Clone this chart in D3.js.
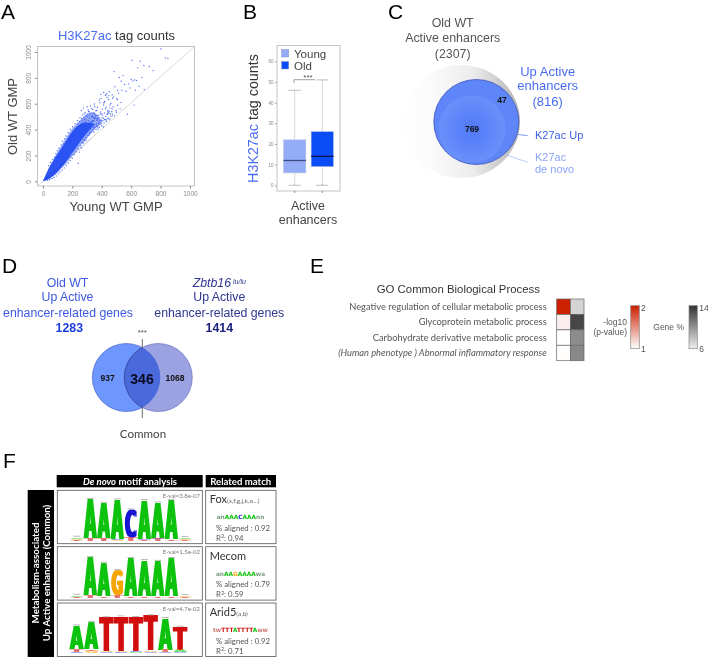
<!DOCTYPE html>
<html>
<head>
<meta charset="utf-8">
<script src="https://cdn.jsdelivr.net/npm/d3@7"></script>
<style>
  html, body { margin: 0; background: #fff; }
  svg { display: block; filter: blur(0.35px); }
  text { font-family: "Liberation Sans", Arial, sans-serif; }
  .lato { font-family: Lato, "Open Sans", sans-serif; }
</style>
</head>
<body>
<div id="chart"></div>
<script>
// A: scatter, values (sparse points only)
const scatterYoung = [803,832,850,605,662,644,687,723,750,485,544,519,601,624,637,533,583,628,689,413,435,508,537,481,621,574,
  395,421,446,462,478,455,508,497,525,531,468,440,412,388,372,360,350,338,322,301,310,275,280,262,
  355,368,382,400,412,320,345,330,240,
  290,300,310,320,330,340,350,360,370,380,390,345,315,295,305,325,285,270,260,275,265,
  352,336,318,306,292,278,364,376,398,405,428,448,366,342,327,312,298,283,268,255,
  248,262,276,294,
  384,394,426,436,452,471,489,503,515,556,566,592,612,654,674,471,459,443,429,417];
const scatterOld = [1023,954,949,936,928,877,895,887,856,848,817,802,787,784,779,774,753,704,709,686,679,704,704,653,589,519,
  640,618,633,601,577,566,588,548,560,610,540,520,590,607,571,545,598,556,583,576,540,566,520,548,
  498,470,455,430,420,380,418,450,140,
  460,500,470,440,500,470,440,510,430,490,520,530,510,430,410,405,480,470,450,430,400,
  416,396,372,354,338,322,442,404,472,512,476,528,486,492,462,438,408,378,352,432,
  226,258,298,318,
  628,672,665,648,692,668,731,640,682,748,696,722,776,735,802,506,522,486,474,612];

// points around the dense core: upper side, lower side, then the loose top of the cloud
const fringeYoung = [38,44,52,58,64,66,73,77,83,88,93,97,103,108,112,118,123,128,133,137,143,147,151,156,161,167,172,176,181,186,190,196,201,207,212,218,224,229,234,240,246,252,257,263,268,274,281,287,294,301,308,316,323,331,337,344,352,
  31,44,48,61,67,75,81,91,95,104,109,117,124,131,136,145,151,158,164,172,177,186,191,199,204,213,218,226,232,240,246,255,261,268,275,284,290,298,305,314,321,330,337,346,354,362,370,378,389,400,412,425,436,450,
  352,366,378,392,404,418,430,442,456,470,384,396,408,420,432,444,458,472,486,500,372,388,402,416,428,440,454,362,374,346,350,338,326,314,302,290,278,264,250,238,414,474,506,448,426];
const fringeOld = [120,100,146,118,170,132,150,186,162,214,180,236,198,256,214,232,282,246,310,262,288,330,274,350,304,322,378,296,344,402,322,368,422,348,386,446,402,368,470,420,388,492,436,404,512,456,420,530,474,438,552,488,452,566,510,468,578,
  8,12,26,22,44,30,56,42,72,58,90,72,112,86,128,104,150,124,172,142,196,160,224,178,246,206,274,228,296,250,322,276,344,298,372,316,394,336,416,358,438,380,462,402,486,424,508,446,470,520,488,560,518,540,
  520,548,512,536,558,528,572,548,590,562,418,450,468,478,462,488,504,520,506,534,478,438,492,452,502,536,478,402,420,382,488,500,524,538,518,506,494,486,462,444,606,642,630,662,668];

// dense core of the cloud as an envelope, and the softer zone around it
const bandYoung = [2, 29, 52, 86, 120, 154, 188, 222, 256, 290, 324, 352];
const bandLow   = [2, 10, 30, 56, 100, 148, 204, 252, 310, 362, 408, 438];
const bandHigh  = [6, 74, 126, 188, 246, 305, 372, 418, 445, 456, 456, 442];
const haloYoung = [2, 50, 100, 150, 200, 250, 300, 350, 400];
const haloLow   = [2, 18, 70, 125, 195, 270, 335, 405, 450];
const haloHigh  = [8, 130, 230, 325, 415, 470, 525, 545, 470];

// B: boxplot
const boxGroups = ["Young", "Old"];
const boxColors = ["#94acf6", "#0a4cf6"];
const boxQ1     = [6, 9];
const boxMedian = [12, 14];
const boxQ3     = [22, 26];
const boxLow    = [0, 0];
const boxHigh   = [46, 51];

// C / D: venn numbers
const vennC = { old: 2307, up: 816, k27acUp: 47, deNovo: 769 };
const vennD = { oldWt: 1283, zbtb: 1414, onlyOld: 937, common: 346, onlyZbtb: 1068 };

// E: heatmap
const goTerms = ["Negative regulation of cellular metabolic process", "Glycoprotein metabolic process",
  "Carbohydrate derivative metabolic process", "(Human phenotype ) Abnormal inflammatory response"];
const goPvalue = [2, 1.13, 1, 1.02];
const goGene   = [7.2, 13.2, 10.2, 10.4];

// F: motifs, each position is a stack [letter, bits] from the bottom up
const motifRows = [
  { eval: "E-val=3.8e-07", name: "Fox", sub: "(a,f,g,j,k,o...)", aligned: "0.92", r2: "0.94",
    seq: "anAAACAAAnn", stacks: [
      [["T",.06],["G",.05],["A",.07]],
      [["T",.14],["A",1.84]], [["T",.14],["A",1.66]], [["G",.05],["C",.05],["A",1.86]],
      [["T",.18],["C",1.3]], [["T",.06],["C",.05],["A",1.82]], [["T",.1],["C",.05],["A",1.66]],
      [["T",.08],["A",1.84]], [["T",.04],["G",.05],["A",.08]] ] },
  { eval: "E-val=1.5e-02", name: "Mecom", sub: "", aligned: "0.79", r2: "0.59",
    seq: "anAAGAAAAwa", stacks: [
      [["T",.04],["A",.07]],
      [["T",.1],["A",1.8]], [["T",.08],["A",1.56]], [["T",.14],["G",1.14]],
      [["T",.08],["A",1.78]], [["T",.08],["A",1.68]], [["T",.06],["A",1.66]],
      [["T",.08],["A",1.78]], [["T",.04],["G",.05]] ] },
  { eval: "E-val=4.7e-02", name: "Arid5", sub: "(a,b)", aligned: "0.92", r2: "0.71",
    seq: "twTTTATTTTAww", stacks: [
      [["C",.05],["T",.12],["A",1.12]], [["G",.1],["T",.08],["A",1.28]],
      [["C",.07],["G",.03],["T",1.58]], [["C",.05],["G",.06],["T",1.61]],
      [["A",.06],["C",.05],["T",1.58]], [["C",.07],["G",.05],["T",1.65]],
      [["C",.04],["T",.1],["A",1.5]], [["C",.03],["A",.1],["T",1.1]] ] }
];
const letterColor = { A: "#0cc20c", C: "#1616d2", G: "#f6a500", T: "#d20a0a" };
const letterAdvance = { A: 77.4, C: 73.4, G: 82.1, T: 68.2 };

const blueTitle = "#4a6cf2";
const axisGrey = "#8a8a8a";

const svg = d3.select("#chart").append("svg").attr("width", 708).attr("height", 657);

function label(g, str, x, y, size, opts) {
  opts = opts || {};
  return g.append("text").attr("x", x).attr("y", y).attr("font-size", size)
    .attr("text-anchor", opts.anchor || "start")
    .attr("font-weight", opts.bold ? "bold" : null)
    .attr("fill", opts.fill || "#333").attr("class", opts.cls || null).text(str);
}

// panel letters
[["A",1,19.2],["B",243,19.2],["C",388,19.2],["D",2,273],["E",310,273],["F",3,468]].forEach(d => {
  label(svg, d[0], d[1], d[2], 21, { fill: "#000" });
});

const defs = svg.append("defs");

// ---- A
function drawScatter() {
  const g = svg.append("g");
  const x = d3.scaleLinear().domain([-37, 1031]).range([37.5, 194.5]);
  const y = d3.scaleLinear().domain([-36, 1042]).range([186, 46.5]);
  g.append("rect").attr("x", 37.5).attr("y", 46.5).attr("width", 157).attr("height", 139.5)
    .attr("fill", "none").attr("stroke", "#c4c4c4");
  g.append("line").attr("x1", x(-37)).attr("y1", y(-36)).attr("x2", x(1031)).attr("y2", y(1042))
    .attr("stroke", "#c8c8c8").attr("stroke-width", 0.7);

  const halo = d3.area().x((d, i) => x(haloYoung[i])).y0((d, i) => y(haloLow[i]))
    .y1((d, i) => y(haloHigh[i])).curve(d3.curveBasis);
  g.append("path").attr("d", halo(haloYoung)).attr("fill", "#2b52f2").attr("fill-opacity", 0.5);

  const band = d3.area().x((d, i) => x(bandYoung[i])).y0((d, i) => y(bandLow[i]))
    .y1((d, i) => y(bandHigh[i])).curve(d3.curveBasis);
  g.append("path").attr("d", band(bandYoung)).attr("fill", "#2b52f2");

  const allYoung = scatterYoung.concat(fringeYoung);
  const allOld = scatterOld.concat(fringeOld);
  g.selectAll("circle").data(allYoung).join("circle")
    .attr("cx", d => x(d)).attr("cy", (d, i) => y(allOld[i])).attr("r", 0.7)
    .attr("fill", "#2b52f2").attr("fill-opacity", 0.8);
  g.append("line").attr("x1", x(0)).attr("y1", y(0)).attr("x2", x(330)).attr("y2", y(330))
    .attr("stroke", "#1c36a8").attr("stroke-width", 0.5).attr("opacity", 0.4);

  const ticks = [0, 200, 400, 600, 800, 1000];
  const ax = g.append("g").attr("transform", "translate(0,186)")
    .call(d3.axisBottom(x).tickValues(ticks).tickFormat(d3.format("d")).tickSize(2.5).tickSizeOuter(0));
  const ay = g.append("g").attr("transform", "translate(37.5,0)")
    .call(d3.axisLeft(y).tickValues(ticks).tickFormat(d3.format("d")).tickSize(2.5).tickSizeOuter(0));
  [ax, ay].forEach(a => {
    a.select(".domain").remove();
    a.selectAll("line").attr("stroke", axisGrey);
    a.selectAll("text").attr("font-size", 6.5).attr("fill", axisGrey);
  });
  // rotate about the tick itself
  ay.selectAll("text").attr("dy", 0).attr("text-anchor", "middle")
    .attr("x", 0).attr("y", 0).attr("transform", "translate(-7,0) rotate(-90)");

  const t = label(g, "", 116.5, 40, 13, { anchor: "middle" });
  t.append("tspan").attr("fill", blueTitle).text("H3K27ac");
  t.append("tspan").text(" tag counts");
  label(g, "Young WT GMP", 116, 211, 13, { anchor: "middle", fill: "#444" });
  label(g, "Old WT GMP", 0, 0, 13, { anchor: "middle", fill: "#444" })
    .attr("transform", "translate(17,116.5) rotate(-90)");
}

// ---- B
function drawBox() {
  const g = svg.append("g");
  const y = d3.scaleLinear().domain([0, 60]).range([185.3, 61.3]);
  const x = d3.scaleBand().domain(boxGroups).range([279.5, 337.5]).padding(0.1);
  g.append("rect").attr("x", 277).attr("y", 45.5).attr("width", 63).attr("height", 145.5)
    .attr("fill", "none").attr("stroke", "#c4c4c4");

  boxGroups.forEach((name, i) => {
    const cx = x(name) + x.bandwidth() / 2;
    const bw = x.bandwidth() * 0.9;
    g.append("line").attr("x1", cx).attr("x2", cx).attr("y1", y(boxLow[i])).attr("y2", y(boxHigh[i]))
      .attr("stroke", "#999").attr("stroke-width", 0.8).attr("stroke-dasharray", "1,1");
    [boxLow[i], boxHigh[i]].forEach(v => {
      g.append("line").attr("x1", cx - 6).attr("x2", cx + 6).attr("y1", y(v)).attr("y2", y(v))
        .attr("stroke", "#aaa").attr("stroke-width", 0.8);
    });
    g.append("rect").attr("x", cx - bw / 2).attr("width", bw).attr("y", y(boxQ3[i]))
      .attr("height", y(boxQ1[i]) - y(boxQ3[i])).attr("fill", boxColors[i])
      .attr("stroke", "#b9c4e6").attr("stroke-width", 0.6);
    g.append("line").attr("x1", cx - bw / 2).attr("x2", cx + bw / 2).attr("y1", y(boxMedian[i])).attr("y2", y(boxMedian[i]))
      .attr("stroke", i ? "#06154f" : "#3d4a7d").attr("stroke-width", 1.3);
    g.append("line").attr("x1", cx).attr("x2", cx).attr("y1", 191).attr("y2", 193).attr("stroke", axisGrey);
    // legend
    const ly = 49.5 + i * 12;
    g.append("rect").attr("x", 281.7).attr("y", ly).attr("width", 7).attr("height", 7.5)
      .attr("fill", boxColors[i]).attr("stroke", "#8090c0").attr("stroke-width", 0.5);
    label(g, name, 294, ly + 8, 11.5, { fill: "#444" });
  });

  const ay = g.append("g").attr("transform", "translate(277,0)")
    .call(d3.axisLeft(y).tickValues([0, 10, 20, 30, 40, 50, 60]).tickSize(2).tickSizeOuter(0));
  ay.select(".domain").remove();
  ay.selectAll("line").attr("stroke", "#aaa");
  ay.selectAll("text").attr("font-size", 4.5).attr("fill", "#888").attr("x", -3.5);

  g.append("path").attr("d", "M294,83V79.7H315").attr("fill", "none").attr("stroke", "#777").attr("stroke-width", 0.7);
  label(g, "***", 308, 80, 8, { anchor: "middle", fill: "#555" });

  const t = label(g, "", 0, 0, 14.3, { anchor: "middle" }).attr("transform", "translate(258,118.5) rotate(-90)");
  t.append("tspan").attr("fill", blueTitle).text("H3K27ac");
  t.append("tspan").text(" tag counts");
  label(g, "Active", 308, 210, 12.5, { anchor: "middle", fill: "#444" });
  label(g, "enhancers", 308, 224, 12.5, { anchor: "middle", fill: "#444" });
}

// ---- C
function drawVennC() {
  const g = svg.append("g");
  const grad = defs.append("linearGradient").attr("id", "greyFade");
  grad.append("stop").attr("offset", "0%").attr("stop-color", "#fff");
  grad.append("stop").attr("offset", "25%").attr("stop-color", "#fbfbfb");
  grad.append("stop").attr("offset", "60%").attr("stop-color", "#ececec");
  grad.append("stop").attr("offset", "100%").attr("stop-color", "#b4b4b4");
  const inner = defs.append("radialGradient").attr("id", "innerBlue");
  inner.append("stop").attr("offset", "0%").attr("stop-color", "#4f78f8");
  inner.append("stop").attr("offset", "100%").attr("stop-color", "#6b90fa");

  g.append("ellipse").attr("cx", 461).attr("cy", 121.5).attr("rx", 59).attr("ry", 56.5).attr("fill", "url(#greyFade)");
  g.append("circle").attr("cx", 476.3).attr("cy", 122).attr("r", 42.5)
    .attr("fill", "#5f86f8").attr("stroke", "#3c55b8").attr("stroke-width", 0.8);
  g.append("circle").attr("cx", 472).attr("cy", 129).attr("r", 33.5).attr("fill", "url(#innerBlue)");

  g.append("line").attr("x1", 511.7).attr("y1", 133.7).attr("x2", 527.7).attr("y2", 135.7).attr("stroke", "#5f80f0").attr("stroke-width", 0.8);
  g.append("line").attr("x1", 506.7).attr("y1", 155).attr("x2", 527.7).attr("y2", 162.3).attr("stroke", "#a8bcf8").attr("stroke-width", 0.8);

  label(g, "Old WT", 452.7, 27, 12.4, { anchor: "middle", fill: "#555" });
  label(g, "Active enhancers", 452.7, 41.7, 12.4, { anchor: "middle", fill: "#555" });
  label(g, `(${vennC.old})`, 452.7, 57.7, 12.4, { anchor: "middle", fill: "#555" });
  label(g, "Up Active", 547.7, 76, 13, { anchor: "middle", fill: blueTitle });
  label(g, "enhancers", 547.7, 90, 13, { anchor: "middle", fill: blueTitle });
  label(g, `(${vennC.up})`, 547.7, 106, 13, { anchor: "middle", fill: blueTitle });
  label(g, "K27ac Up", 535, 139.3, 11, { fill: "#3a5ee6" });
  label(g, "K27ac", 535, 161, 11, { fill: "#8aa4f8" });
  label(g, "de novo", 535, 173, 11, { fill: "#8aa4f8" });
  label(g, vennC.k27acUp, 502, 103, 8.5, { anchor: "middle", bold: true, fill: "#111" });
  label(g, vennC.deNovo, 472, 132, 8.5, { anchor: "middle", bold: true, fill: "#111" });
}

// ---- D
function drawVennD() {
  const g = svg.append("g");
  const cy = 377.5, r = 34, cl = 126.3, cr = 158.3;
  defs.append("clipPath").attr("id", "leftClip").append("circle").attr("cx", cl).attr("cy", cy).attr("r", r);
  g.append("circle").attr("cx", cl).attr("cy", cy).attr("r", r).attr("fill", "#6d97ff").attr("stroke", "#4a66c8").attr("stroke-width", 0.7);
  g.append("circle").attr("cx", cr).attr("cy", cy).attr("r", r).attr("fill", "#9aa2e2").attr("stroke", "#6a70bc").attr("stroke-width", 0.7);
  g.append("circle").attr("cx", cr).attr("cy", cy).attr("r", r).attr("fill", "#4a69da")
    .attr("stroke", "#303c9c").attr("stroke-width", 0.7).attr("clip-path", "url(#leftClip)");
  g.append("line").attr("x1", 142.3).attr("x2", 142.3).attr("y1", 339).attr("y2", 348).attr("stroke", "#444").attr("stroke-width", 0.8);
  g.append("line").attr("x1", 142.3).attr("x2", 142.3).attr("y1", 407).attr("y2", 418).attr("stroke", "#444").attr("stroke-width", 0.8);

  const leftBlue = "#3d58e2", rightBlue = "#2f3590";
  label(g, "Old WT", 67.5, 286.7, 12.3, { anchor: "middle", fill: leftBlue });
  label(g, "Up Active", 67.5, 300.5, 12.3, { anchor: "middle", fill: leftBlue });
  label(g, "enhancer-related genes", 68, 316.7, 12.3, { anchor: "middle", fill: leftBlue });
  label(g, vennD.oldWt, 69.3, 332, 12.3, { anchor: "middle", bold: true, fill: "#1a3ee0" });

  const zb = label(g, "", 219.3, 286.7, 12.3, { anchor: "middle", fill: rightBlue });
  zb.append("tspan").attr("font-style", "italic").text("Zbtb16");
  zb.append("tspan").attr("font-style", "italic").attr("font-size", 7).attr("dy", -3).text(" lu/lu");
  label(g, "Up Active", 219.3, 300.5, 12.3, { anchor: "middle", fill: rightBlue });
  label(g, "enhancer-related genes", 219.3, 316.7, 12.3, { anchor: "middle", fill: rightBlue });
  label(g, vennD.zbtb, 219.3, 332, 12.3, { anchor: "middle", bold: true, fill: "#1a2080" });

  label(g, "***", 142.3, 335, 8, { anchor: "middle", fill: "#555" });
  label(g, vennD.onlyOld, 107.7, 381, 8.5, { anchor: "middle", bold: true, fill: "#111" });
  label(g, vennD.common, 142, 383.5, 14, { anchor: "middle", bold: true, fill: "#0a0a20" });
  label(g, vennD.onlyZbtb, 175, 381, 8.5, { anchor: "middle", bold: true, fill: "#111" });
  label(g, "Common", 143, 438, 11.6, { anchor: "middle", fill: "#444", cls: "lato" });
}

// ---- E
function drawHeat() {
  const g = svg.append("g");
  const x = d3.scaleBand().domain([0, 1]).range([556.7, 584]);
  const y = d3.scaleBand().domain(goTerms).range([299, 360.7]);
  const red = d3.scaleLinear().domain([1, 1.3, 2]).range(["#ffffff", "#f8d8d8", "#cc2000"]);
  const grey = d3.scaleLinear().domain([6, 14]).range(["#f0f0f0", "#333333"]);

  goTerms.forEach((term, i) => {
    g.append("rect").attr("x", x(0)).attr("y", y(term)).attr("width", x.bandwidth()).attr("height", y.bandwidth())
      .attr("fill", red(goPvalue[i])).attr("stroke", "#666").attr("stroke-width", 0.7);
    g.append("rect").attr("x", x(1)).attr("y", y(term)).attr("width", x.bandwidth()).attr("height", y.bandwidth())
      .attr("fill", grey(goGene[i])).attr("stroke", "#666").attr("stroke-width", 0.7);
    const t = label(g, term, 546.7, y(term) + y.bandwidth() / 2 + 3, 9.3, { anchor: "end", fill: "#555", cls: "lato" });
    if (i === 3) t.attr("font-style", "italic");
  });
  label(g, "GO Common Biological Process", 376.7, 293, 11.4, { fill: "#333" });

  const gr = defs.append("linearGradient").attr("id", "redLegend").attr("x2", 0).attr("y2", 1);
  gr.append("stop").attr("offset", "0%").attr("stop-color", red(2));
  gr.append("stop").attr("offset", "100%").attr("stop-color", red(1));
  const gg = defs.append("linearGradient").attr("id", "greyLegend").attr("x2", 0).attr("y2", 1);
  gg.append("stop").attr("offset", "0%").attr("stop-color", grey(14));
  gg.append("stop").attr("offset", "100%").attr("stop-color", grey(6));
  g.append("rect").attr("x", 630.7).attr("y", 305.7).attr("width", 8.6).attr("height", 43)
    .attr("fill", "url(#redLegend)").attr("stroke", "#888").attr("stroke-width", 0.7);
  g.append("rect").attr("x", 689).attr("y", 305.7).attr("width", 8.3).attr("height", 43)
    .attr("fill", "url(#greyLegend)").attr("stroke", "#888").attr("stroke-width", 0.7);

  label(g, "2", 641, 311, 8.5, { fill: "#555" });
  label(g, "1", 641, 352, 8.5, { fill: "#555" });
  label(g, "14", 699.3, 311, 8.5, { fill: "#555" });
  label(g, "6", 699.3, 352, 8.5, { fill: "#555" });
  label(g, "-log10", 627, 325, 8.5, { anchor: "end", fill: "#555" });
  label(g, "(p-value)", 627, 335, 8.5, { anchor: "end", fill: "#555" });
  label(g, "Gene %", 684, 330, 8.5, { anchor: "end", fill: "#555" });
}

// ---- F
function drawMotifs() {
  const g = svg.append("g");
  g.append("rect").attr("x", 56.7).attr("y", 475).attr("width", 146).attr("height", 12.3).attr("fill", "#000");
  g.append("rect").attr("x", 205.7).attr("y", 475).attr("width", 70.3).attr("height", 12.3).attr("fill", "#000");
  g.append("rect").attr("x", 27.7).attr("y", 490).attr("width", 26.3).attr("height", 167).attr("fill", "#000");

  const h = label(g, "", 130, 485, 9.6, { anchor: "middle", bold: true, fill: "#fff", cls: "lato" });
  h.append("tspan").attr("font-style", "italic").text("De novo");
  h.append("tspan").text(" motif analysis");
  label(g, "Related match", 240.7, 485, 9.6, { anchor: "middle", bold: true, fill: "#fff", cls: "lato" });
  label(g, "Metabolism-associated", 0, 0, 9.8, { anchor: "middle", bold: true, fill: "#fff", cls: "lato" })
    .attr("transform", "translate(39,573) rotate(-90)");
  label(g, "Up Active enhancers (Common)", 0, 0, 9.8, { anchor: "middle", bold: true, fill: "#fff", cls: "lato" })
    .attr("transform", "translate(50,573) rotate(-90)");

  // thicken the stretched logo letters sideways only
  defs.append("filter").attr("id", "fatten").attr("x", "-5%").attr("width", "110%")
    .append("feMorphology").attr("operator", "dilate").attr("radius", "1 0");

  const rowTops = [490.3, 546.7, 603];
  const rowBase = [541, 597.5, 653];
  const rowNameY = [503, 560, 616];
  const rowSeqY = [519, 576, 632];
  const rowAlignedY = [531, 587.3, 643.7];
  const rowR2Y = [540.7, 597.3, 653.7];
  const rowEvalY = [498, 554, 611];
  const logoRange = [[70, 191.7], [70, 191.7], [69.3, 187.6]];
  const bits = d3.scaleLinear().domain([0, 2]).range([0, 42]);

  motifRows.forEach((row, r) => {
    const top = rowTops[r];
    g.append("rect").attr("x", 57.3).attr("y", top).attr("width", 145).attr("height", 53.4)
      .attr("fill", "#fff").attr("stroke", "#555").attr("stroke-width", 0.8);
    g.append("rect").attr("x", 205.7).attr("y", top).attr("width", 70.3).attr("height", 53.4)
      .attr("fill", "#fff").attr("stroke", "#555").attr("stroke-width", 0.8);

    const x = d3.scaleBand().domain(d3.range(row.stacks.length)).range(logoRange[r]);
    const logo = g.append("g").attr("filter", "url(#fatten)");
    row.stacks.forEach((stack, p) => {
      let yPos = rowBase[r];
      const cx = x(p) + x.bandwidth() / 2;
      stack.forEach(s => {
        const lh = bits(s[1]);
        logo.append("text").attr("text-anchor", "middle").attr("font-size", 100).attr("font-weight", "bold")
          .attr("fill", letterColor[s[0]]).attr("opacity", s[1] >= 0.3 ? 1 : 0.55)
          .style("font-family", "'DejaVu Sans'")
          .attr("transform", `translate(${cx},${yPos}) scale(${(x.bandwidth() * 0.86) / letterAdvance[s[0]]},${lh / 72.9})`)
          .text(s[0]);
        yPos -= lh;
      });
      g.append("line").attr("x1", cx - 3.5).attr("x2", cx + 3.5).attr("y1", yPos - 1).attr("y2", yPos - 1)
        .attr("stroke", "#aaa").attr("stroke-width", 0.8);
    });

    label(g, row.eval, 200, rowEvalY[r], 6, { anchor: "end", fill: "#777", cls: "lato" });

    const nm = label(g, row.name, 209.7, rowNameY[r], 11, { fill: "#333", cls: "lato" });
    if (row.sub) nm.append("tspan").attr("font-size", 6.5).attr("fill", "#666").text(row.sub);

    const seq = label(g, "", 240.5, rowSeqY[r], 5.8, { anchor: "middle", bold: true })
      .style("font-family", "'DejaVu Sans'");
    row.seq.split("").forEach(c => {
      const up = c === c.toUpperCase();
      const col = up ? letterColor[c] : (r === 2 ? "#c77" : "#7c9a7c");
      seq.append("tspan").attr("fill", col).text(c);
    });

    label(g, `% aligned : ${row.aligned}`, 216, rowAlignedY[r], 7.8, { fill: "#555", cls: "lato" });
    const rr = label(g, "R", 216, rowR2Y[r], 7.8, { fill: "#555", cls: "lato" });
    rr.append("tspan").attr("font-size", 5.5).attr("dy", -2.5).text("2");
    rr.append("tspan").attr("dy", 2.5).text(`: ${row.r2}`);
  });
}

drawScatter();
drawBox();
drawVennC();
drawVennD();
drawHeat();
drawMotifs();
</script>
</body>
</html>
